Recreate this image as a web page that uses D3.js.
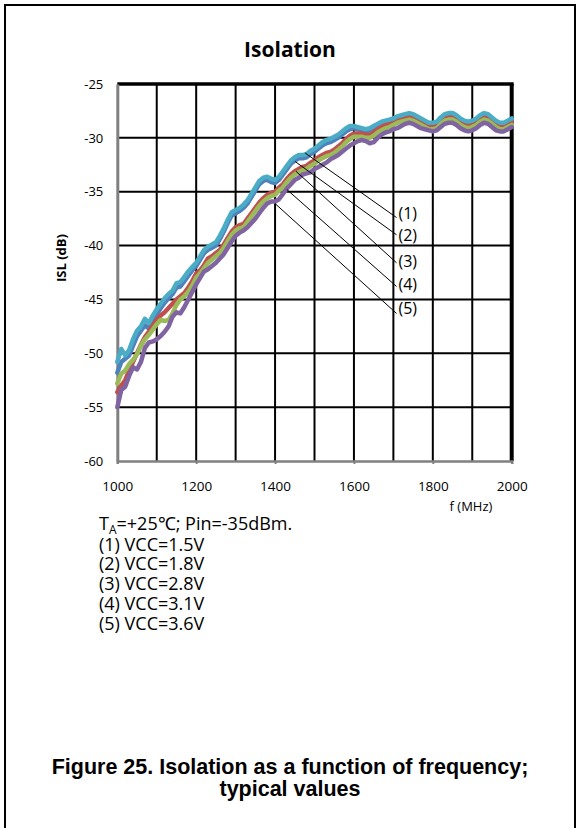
<!DOCTYPE html>
<html><head><meta charset="utf-8">
<script src="https://cdn.jsdelivr.net/npm/d3@7"></script>
<style>body{margin:0;background:#fff}svg{display:block}</style>
</head><body><svg id="c" width="580" height="828"></svg>
<script>
// ---- data ----
const freqStart = 1000, freqEnd = 2000, freqStep = 10; // sampling grid of the traces (MHz)
const xTicks = [1000, 1200, 1400, 1600, 1800, 2000];
const yTicks = [-25, -30, -35, -40, -45, -50, -55, -60];
const seriesNames = ["(1)", "(2)", "(3)", "(4)", "(5)"];
const legendLines = ["(1) VCC=1.5V", "(2) VCC=1.8V", "(3) VCC=2.8V", "(4) VCC=3.1V", "(5) VCC=3.6V"];

const isl1 = [ // VCC=1.5V
-50.8,-49.6,-50.2,-49.7,-48.7,-47.9,-47.5,-46.8,-47.2,-46.5,
-45.9,-45.4,-44.9,-44.5,-44.2,-43.5,-43.4,-42.9,-42.4,-42.0,
-41.6,-41.0,-40.4,-40.1,-39.9,-39.7,-39.1,-38.4,-37.6,-36.9,
-36.7,-36.5,-36.2,-35.8,-35.2,-34.6,-34.0,-33.7,-33.6,-33.8,
-33.9,-33.6,-33.1,-32.6,-32.1,-31.8,-31.6,-31.6,-31.5,-31.2,
-31.0,-30.7,-30.4,-30.2,-30.1,-29.9,-29.7,-29.4,-29.1,-28.9,
-28.9,-29.0,-29.1,-29.2,-29.1,-28.9,-28.7,-28.5,-28.4,-28.3,
-28.2,-28.0,-27.9,-27.8,-27.7,-27.8,-28.0,-28.2,-28.4,-28.6,
-28.6,-28.5,-28.1,-27.8,-27.7,-27.7,-27.9,-28.2,-28.4,-28.5,
-28.4,-28.2,-27.9,-27.7,-27.8,-28.1,-28.4,-28.6,-28.6,-28.4,
-28.2];
const isl2 = [ // VCC=1.8V
-51.8,-50.8,-50.5,-50.2,-49.3,-48.4,-47.9,-47.4,-47.7,-47.0,
-46.4,-45.8,-45.3,-44.9,-44.5,-43.9,-43.8,-43.3,-42.8,-42.3,
-41.9,-41.3,-40.7,-40.4,-40.2,-40.0,-39.4,-38.7,-37.9,-37.2,
-37.0,-36.8,-36.5,-36.1,-35.5,-34.9,-34.3,-34.0,-33.9,-34.1,
-34.2,-33.9,-33.4,-32.9,-32.4,-32.1,-31.9,-31.9,-31.8,-31.5,
-31.3,-31.0,-30.7,-30.5,-30.4,-30.2,-30.0,-29.7,-29.4,-29.2,
-29.1,-29.2,-29.3,-29.4,-29.3,-29.1,-28.9,-28.7,-28.6,-28.5,
-28.4,-28.2,-28.1,-28.0,-27.9,-28.0,-28.2,-28.4,-28.6,-28.8,
-28.8,-28.7,-28.3,-28.0,-27.9,-27.9,-28.1,-28.4,-28.6,-28.7,
-28.6,-28.4,-28.1,-27.9,-28.0,-28.3,-28.6,-28.8,-28.8,-28.6,
-28.4];
const isl3 = [ // VCC=2.8V
-53.6,-53.0,-52.5,-51.6,-50.8,-50.0,-49.2,-48.5,-48.0,-47.4,
-46.9,-46.5,-46.2,-45.8,-45.4,-45.0,-44.7,-44.4,-43.9,-43.3,
-42.6,-42.3,-41.8,-41.2,-41.0,-40.7,-40.4,-39.9,-39.3,-38.7,
-38.3,-38.1,-38.0,-37.5,-37.0,-36.5,-36.0,-35.6,-35.3,-35.1,
-35.0,-34.6,-34.3,-33.8,-33.4,-33.1,-32.9,-32.7,-32.6,-32.3,
-32.1,-31.8,-31.6,-31.4,-31.3,-31.1,-30.8,-30.5,-30.1,-29.8,
-29.6,-29.6,-29.6,-29.7,-29.7,-29.5,-29.2,-29.0,-28.8,-28.7,
-28.6,-28.4,-28.3,-28.2,-28.1,-28.2,-28.4,-28.6,-28.8,-29.0,
-29.0,-28.9,-28.5,-28.2,-28.1,-28.1,-28.3,-28.6,-28.8,-28.9,
-28.8,-28.6,-28.3,-28.1,-28.2,-28.5,-28.8,-29.0,-29.0,-28.8,
-28.6];
const isl4 = [ // VCC=3.1V
-52.8,-51.9,-51.6,-51.0,-50.6,-50.1,-49.3,-48.7,-48.3,-47.8,
-47.3,-46.9,-47.0,-46.9,-46.3,-45.5,-45.0,-44.7,-44.3,-43.7,
-43.0,-42.6,-42.1,-41.6,-41.3,-41.0,-40.7,-40.2,-39.6,-39.0,
-38.6,-38.4,-38.3,-37.8,-37.3,-36.8,-36.3,-35.9,-35.6,-35.4,
-35.3,-34.9,-34.6,-34.1,-33.7,-33.4,-33.2,-33.0,-32.9,-32.6,
-32.4,-32.1,-31.9,-31.7,-31.6,-31.4,-31.1,-30.8,-30.4,-30.1,
-29.9,-29.9,-29.9,-30.0,-30.0,-29.8,-29.5,-29.3,-29.1,-29.0,
-28.8,-28.6,-28.5,-28.4,-28.3,-28.4,-28.6,-28.8,-29.0,-29.2,
-29.2,-29.1,-28.7,-28.4,-28.3,-28.3,-28.5,-28.8,-29.0,-29.1,
-29.0,-28.8,-28.5,-28.3,-28.4,-28.7,-29.0,-29.2,-29.2,-29.0,
-28.8];
const isl5 = [ // VCC=3.6V
-55.0,-53.4,-53.1,-52.1,-51.3,-51.5,-50.8,-49.5,-49.0,-48.9,
-48.7,-48.4,-48.0,-47.5,-46.6,-46.2,-46.3,-45.7,-45.0,-44.3,
-43.6,-43.0,-42.4,-42.2,-41.9,-41.6,-41.2,-40.8,-40.2,-39.6,
-39.1,-38.8,-38.6,-38.3,-37.9,-37.5,-37.0,-36.5,-36.1,-35.9,
-35.9,-35.7,-35.2,-34.7,-34.3,-33.9,-33.7,-33.4,-33.3,-33.2,
-32.9,-32.7,-32.5,-32.3,-32.0,-31.8,-31.6,-31.3,-31.0,-30.7,
-30.5,-30.3,-30.2,-30.3,-30.5,-30.4,-30.0,-29.7,-29.5,-29.4,
-29.2,-29.1,-28.9,-28.7,-28.6,-28.7,-28.9,-29.1,-29.2,-29.3,
-29.4,-29.3,-29.0,-28.7,-28.6,-28.6,-28.8,-29.1,-29.3,-29.4,
-29.3,-29.1,-28.8,-28.6,-28.7,-29.0,-29.3,-29.4,-29.4,-29.2,
-29.0];

// annotation leaders (data units): start on curve -> end near label
const leaderStartF  = [1476, 1451, 1453, 1430, 1400];
const leaderStartDb = [-31.4, -32.2, -33.1, -34.8, -36.1];
const leaderEndF    = [1708, 1708, 1708, 1708, 1708];
const leaderEndDb   = [-37.4, -39.0, -41.6, -43.8, -46.3];
const labelF  = 1713;
const labelDb = [-37.0, -39.0, -41.5, -43.6, -45.8];

// ---- drawing ----
const svg = d3.select("#c");
const colors = ["#4BACC6", "#4F81BD", "#C0504D", "#9BBB59", "#8064A2"];
const L = 117.3, R = 511.7, T = 84, B = 461;
const x = d3.scaleLinear().domain([1000, 2000]).range([L, R]);
const y = d3.scaleLinear().domain([-60, -25]).range([B, T]);
const freqs = d3.range(freqStart, freqEnd + 1, freqStep);
const allSeries = [isl1, isl2, isl3, isl4, isl5];

// outer frame
svg.append("rect").attr("x", 5).attr("y", 5).attr("width", 570).attr("height", 840)
  .attr("fill", "none").attr("stroke", "#000").attr("stroke-width", 2);

// title
svg.append("text").attr("x", 290).attr("y", 57).attr("text-anchor", "middle")
  .attr("font-family", "'Open Sans'").attr("font-weight", "bold").attr("font-size", 21)
  .text("Isolation");

// grid
const g = svg.append("g");
g.selectAll("line.h").data(d3.range(-55, -25, 5)).join("line")
  .attr("x1", L).attr("x2", R).attr("y1", d => y(d)).attr("y2", d => y(d))
  .attr("stroke", "#000").attr("stroke-width", 2);
g.selectAll("line.v").data(d3.range(1100, 2000, 100)).join("line")
  .attr("y1", T).attr("y2", B).attr("x1", d => x(d)).attr("x2", d => x(d))
  .attr("stroke", "#000").attr("stroke-width", 2);
// top & right borders (thick)
g.append("line").attr("x1", L).attr("x2", R + 2).attr("y1", T).attr("y2", T)
  .attr("stroke", "#000").attr("stroke-width", 3.5);
g.append("line").attr("x1", R).attr("x2", R).attr("y1", T).attr("y2", B)
  .attr("stroke", "#000").attr("stroke-width", 4);

// axes
const xAxis = d3.axisBottom(x).tickValues(xTicks).tickSize(3).tickFormat(d => String(d));
const xa = svg.append("g").attr("transform", `translate(0,${B})`).call(xAxis);
xa.select(".domain").attr("stroke", "#808080").attr("stroke-width", 2.5);
xa.selectAll(".tick line").attr("stroke", "#808080").attr("stroke-width", 2);
xa.selectAll(".tick text").attr("font-family", "'Open Sans'").attr("font-size", 13.5)
  .attr("fill", "#000").attr("y", 20).attr("dy", "0.71em");
const yAxis = d3.axisLeft(y).tickValues(yTicks).tickSize(0).tickPadding(14).tickFormat(d => String(d));
const ya = svg.append("g").attr("transform", `translate(${L},0)`).call(yAxis);
ya.select(".domain").attr("stroke", "#808080").attr("stroke-width", 3);
ya.selectAll(".tick text").attr("font-family", "'Open Sans'").attr("font-size", 13)
  .attr("fill", "#000");

// axis titles
svg.append("text").attr("transform", "translate(66,258) rotate(-90)").attr("text-anchor", "middle")
  .attr("font-family", "'Open Sans'").attr("font-weight", "bold").attr("font-size", 13)
  .text("ISL (dB)");
svg.append("text").attr("x", 471).attr("y", 511).attr("text-anchor", "middle")
  .attr("font-family", "'Open Sans'").attr("font-size", 13).text("f (MHz)");

// traces (draw order like the original)
const line = d3.line().x((d, i) => x(freqs[i])).y(d => y(d));
const order = [1, 2, 3, 4, 0];
svg.append("g").selectAll("path").data(order).join("path")
  .attr("d", k => line(allSeries[k]))
  .attr("fill", "none").attr("stroke", k => colors[k]).attr("stroke-width", 4.5)
  .attr("stroke-linejoin", "round").attr("stroke-linecap", "round");

// leaders and labels
const ann = svg.append("g");
seriesNames.forEach((name, i) => {
  ann.append("line")
    .attr("x1", x(leaderStartF[i])).attr("y1", y(leaderStartDb[i]))
    .attr("x2", x(leaderEndF[i])).attr("y2", y(leaderEndDb[i]))
    .attr("stroke", "#000").attr("stroke-width", 1);
  ann.append("text").attr("x", x(labelF)).attr("y", y(labelDb[i])).attr("dy", "0.36em")
    .attr("font-family", "'Open Sans'").attr("font-size", 16).text(name);
});

// notes
const notes = svg.append("g").attr("font-family", "'Open Sans'").attr("font-size", 18);
const t0 = notes.append("text").attr("x", 99).attr("y", 530);
t0.append("tspan").text("T");
t0.append("tspan").attr("font-size", 12).attr("dy", 4).text("A");
t0.append("tspan").attr("dy", -4).text("=+25\u2103; Pin=-35dBm.");
legendLines.forEach((s, i) => {
  notes.append("text").attr("x", 99).attr("y", 550.5 + i * 19.8).text(s);
});

// caption
const cap = svg.append("g").attr("font-family", "'Liberation Sans', Arial, sans-serif")
  .attr("font-weight", "bold").attr("font-size", 21.5).attr("text-anchor", "middle");
cap.append("text").attr("x", 290).attr("y", 774).text("Figure 25. Isolation as a function of frequency;");
cap.append("text").attr("x", 290).attr("y", 796).text("typical values");
</script></body></html>
